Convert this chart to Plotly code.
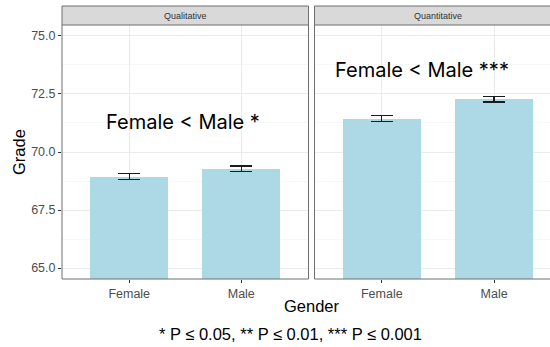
import plotly.graph_objects as go

categories = ["Female", "Male"]
qual_means = [68.94, 69.28]
qual_err = [0.12, 0.12]
quant_means = [71.44, 72.28]
quant_err = [0.13, 0.12]
panels = ["Qualitative", "Quantitative"]
labels = ["Female < Male *", "Female < Male ***"]
y_ticks = [65.0, 67.5, 70.0, 72.5, 75.0]

W, H = 550, 347
def px(x): return x / W
def py(y): return 1 - y / H

L1, R1 = 62, 308.5
L2, R2 = 314.5, 550
TOP, BOT = 25, 279
STRIP_TOP = 6

fig = go.Figure()
bar_color = "#ADD8E6"
for i, (means, err) in enumerate([(qual_means, qual_err), (quant_means, quant_err)]):
    sfx = "" if i == 0 else "2"
    fig.add_trace(go.Bar(
        x=categories, y=means, width=0.7, marker=dict(color=bar_color, line=dict(width=0)),
        error_y=dict(type="data", array=err, visible=True, color="#1a1a1a", thickness=1.3, width=11),
        xaxis="x" + sfx, yaxis="y" + sfx, showlegend=False, hoverinfo="skip",
    ))

yr = [64.53, 75.47]
grid = "#EBEBEB"
minor_grid = "#F4F4F4"
tickfont = dict(family="Liberation Sans, Arial, sans-serif", size=12.5, color="#4D4D4D")
common_y = dict(range=yr, tickvals=y_ticks, ticktext=[f"{v:.1f}" for v in y_ticks],
                showgrid=True, gridcolor=grid, gridwidth=1, zeroline=False,
                minor=dict(tickvals=[65.0 + 1.25 * k for k in range(-1, 10)], showgrid=True, gridcolor=minor_grid, gridwidth=0.7, ticks=""),
                showline=False)
common_x = dict(type="category", showgrid=True, gridcolor=grid, gridwidth=1, zeroline=False,
                ticks="outside", ticklen=3, tickcolor="#333333", tickfont=tickfont, showline=False)

fig.update_layout(
    width=W, height=H, margin=dict(l=0, r=0, t=0, b=0),
    paper_bgcolor="white", plot_bgcolor="white", bargap=0,
    xaxis=dict(domain=[px(L1), px(R1)], range=[-0.6, 1.6], anchor="y", **common_x),
    xaxis2=dict(domain=[px(L2), px(R2)], range=[-0.6, 1.6 - (561.4 - 550) / 112.3], anchor="y2", **common_x),
    yaxis=dict(domain=[py(BOT), py(TOP)], anchor="x", ticks="outside", ticklen=3, tickcolor="#333333",
               tickfont=tickfont, **common_y),
    yaxis2=dict(domain=[py(BOT), py(TOP)], anchor="x2", showticklabels=False, ticks="", **common_y),
)

shapes = []
border = dict(color="#6E6E6E", width=1)
for (l, r, right_edge) in [(L1, R1, True), (L2, R2 + 20, False)]:
    shapes.append(dict(type="line", xref="paper", yref="paper", x0=px(l), x1=px(l), y0=py(BOT), y1=py(TOP), line=border))
    shapes.append(dict(type="line", xref="paper", yref="paper", x0=px(l), x1=px(min(r, W + 5)), y0=py(BOT), y1=py(BOT), line=border))
    if right_edge:
        shapes.append(dict(type="line", xref="paper", yref="paper", x0=px(r), x1=px(r), y0=py(BOT), y1=py(TOP), line=border))
    shapes.append(dict(type="rect", xref="paper", yref="paper", x0=px(l), x1=px(min(r, W + 5)), y0=py(TOP), y1=py(STRIP_TOP),
                       fillcolor="#D9D9D9", line=border, layer="above"))
fig.update_layout(shapes=shapes)

ann = []
strip_font = dict(family="Liberation Sans, Arial, sans-serif", size=9, color="#333333")
ann.append(dict(text=panels[0], xref="paper", yref="paper", x=px((L1 + R1) / 2), y=py((TOP + STRIP_TOP) / 2),
                showarrow=False, font=strip_font, xanchor="center", yanchor="middle"))
ann.append(dict(text=panels[1], xref="paper", yref="paper", x=px(438), y=py((TOP + STRIP_TOP) / 2),
                showarrow=False, font=strip_font, xanchor="center", yanchor="middle"))
big = dict(family="Inter, Roboto, sans-serif", size=20, color="black")
ann.append(dict(text=labels[0], xref="x", yref="y", x=0.48, y=71.3, showarrow=False, font=big,
                xanchor="center", yanchor="middle"))
ann.append(dict(text=labels[1], xref="x2", yref="y2", x=0.36, y=73.55, showarrow=False, font=big,
                xanchor="center", yanchor="middle"))
title_font = dict(family="Liberation Sans, Arial, sans-serif", size=16.5, color="black")
ann.append(dict(text="Grade", xref="paper", yref="paper", x=px(19), y=py(152), showarrow=False,
                font=title_font, textangle=-90, xanchor="center", yanchor="middle"))
ann.append(dict(text="Gender", xref="paper", yref="paper", x=px(311.5), y=py(306), showarrow=False,
                font=title_font, xanchor="center", yanchor="middle"))
ann.append(dict(text="* P ≤ 0.05, ** P ≤ 0.01, *** P ≤ 0.001", xref="paper", yref="paper", x=px(290.5), y=py(334),
                showarrow=False, font=dict(family="Liberation Sans, Arial, sans-serif", size=16.5, color="black"),
                xanchor="center", yanchor="middle"))
fig.update_layout(annotations=ann)

fig.write_html("out.html", config={"displayModeBar": False, "staticPlot": True},
               post_script="document.body.style.margin='0';document.body.style.overflow='hidden';")
